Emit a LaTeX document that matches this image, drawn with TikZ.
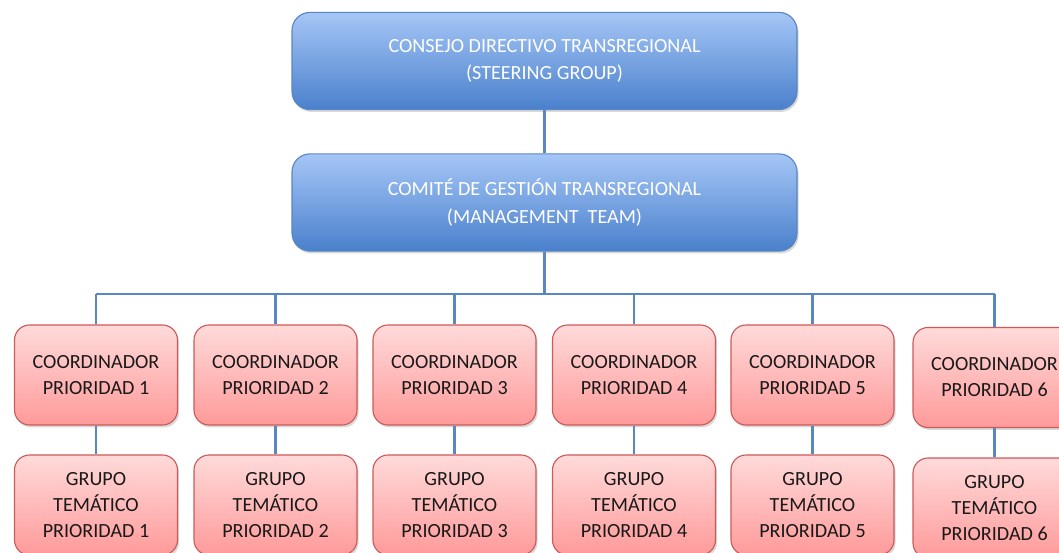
\documentclass[tikz,border=0pt]{standalone}
\usepackage{fontspec}
\setmainfont{Carlito}
\usetikzlibrary{shadows}
\definecolor{bluetop}{HTML}{A5C6F6}
\definecolor{bluebot}{HTML}{4A80CC}
\definecolor{blueline}{HTML}{5A86C2}
\definecolor{redtop}{HTML}{FFDADA}
\definecolor{redbot}{HTML}{FF9A9A}
\definecolor{redline}{HTML}{CC5A58}
\begin{document}
\begin{tikzpicture}[%
      board/.style={rectangle,draw=blueline,thick,top color=bluetop,bottom color=bluebot,rounded corners=0.45cm,
        align=center,inner sep=0pt,minimum width=12.625cm,minimum height=2.43cm,text=white,
        font=\fontsize{14.3}{19.5}\selectfont,drop shadow={opacity=0.3,shadow xshift=0.04cm,shadow yshift=-0.06cm}},
      prio/.style={rectangle,draw=redline,thick,top color=redtop,bottom color=redbot,rounded corners=0.375cm,
        align=center,inner sep=0pt,minimum width=4.075cm,minimum height=2.5cm,text=black!90,
        font=\fontsize{14.3}{18.5}\selectfont,drop shadow={opacity=0.3,shadow xshift=0.04cm,shadow yshift=-0.06cm}},
      link/.style={draw=blueline,line width=1.5pt}
      ]
      \useasboundingbox (0,0) rectangle (26.475,13.8);
      \clip (0,0) rectangle (26.475,13.8);
      \draw (13.6125,12.275) node[board] (S) {CONSEJO DIRECTIVO TRANSREGIONAL\\(STEERING GROUP)};
      \draw (13.6125,8.7375) node[board] (M) {COMITÉ DE GESTIÓN TRANSREGIONAL\\(MANAGEMENT\ \ TEAM)};
      \coordinate (bus) at (0,6.45);
      % coordinators
      \draw (2.4,4.425) node[prio] (C1) {COORDINADOR\\PRIORIDAD 1};
      \draw (6.8875,4.425) node[prio] (C2) {COORDINADOR\\PRIORIDAD 2};
      \draw (11.3625,4.425) node[prio] (C3) {COORDINADOR\\PRIORIDAD 3};
      \draw (15.85,4.425) node[prio] (C4) {COORDINADOR\\PRIORIDAD 4};
      \draw (20.3125,4.425) node[prio] (C5) {COORDINADOR\\PRIORIDAD 5};
      \draw (24.8625,4.3625) node[prio] (C6) {COORDINADOR\\PRIORIDAD 6};
      % thematic groups
      \draw (2.4,1.175) node[prio] (G1) {GRUPO\\TEMÁTICO\\PRIORIDAD 1};
      \draw (6.8875,1.175) node[prio] (G2) {GRUPO\\TEMÁTICO\\PRIORIDAD 2};
      \draw (11.3625,1.175) node[prio] (G3) {GRUPO\\TEMÁTICO\\PRIORIDAD 3};
      \draw (15.85,1.175) node[prio] (G4) {GRUPO\\TEMÁTICO\\PRIORIDAD 4};
      \draw (20.3125,1.175) node[prio] (G5) {GRUPO\\TEMÁTICO\\PRIORIDAD 5};
      \draw (24.8625,1.1) node[prio] (G6) {GRUPO\\TEMÁTICO\\PRIORIDAD 6};
      % connectors
      \draw[link] (S) -- (M);
      \draw[link] (M.south) -- (M.south |- bus);
      \draw[link] (C1.north |- bus) -- (C6.north |- bus);
      \draw[link] (C1.north |- bus) -- (C1.north);
      \draw[link] (C2.north |- bus) -- (C2.north);
      \draw[link] (C3.north |- bus) -- (C3.north);
      \draw[link] (C4.north |- bus) -- (C4.north);
      \draw[link] (C5.north |- bus) -- (C5.north);
      \draw[link] (C6.north |- bus) -- (C6.north);
      \draw[link] (C1) -- (G1);
      \draw[link] (C2) -- (G2);
      \draw[link] (C3) -- (G3);
      \draw[link] (C4) -- (G4);
      \draw[link] (C5) -- (G5);
      \draw[link] (C6) -- (G6);
    \end{tikzpicture}
\end{document}
